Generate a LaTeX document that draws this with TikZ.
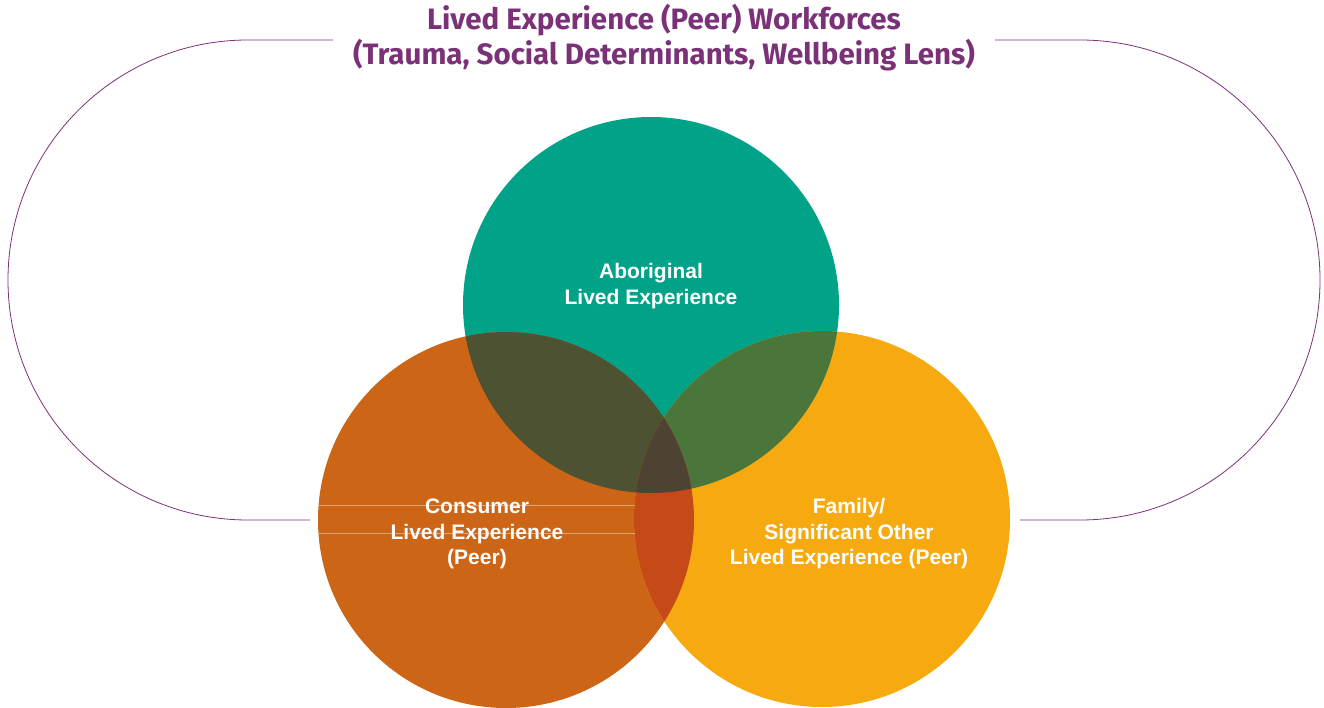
\documentclass[tikz,border=0pt]{standalone}
\usepackage{fontspec}
\setmainfont{Liberation Sans}
\newfontfamily\titlefont{Fira Sans}
\usetikzlibrary{calc}

\definecolor{aboteal}{HTML}{00A388}
\definecolor{conorange}{HTML}{CD6516}
\definecolor{famyellow}{HTML}{F6AA10}
\definecolor{abocon}{HTML}{4D5233}
\definecolor{abofam}{HTML}{4A763B}
\definecolor{confam}{HTML}{C64A17}
\definecolor{allthree}{HTML}{4E4232}
\definecolor{lensviolet}{HTML}{7B3177}

\begin{document}
\begin{tikzpicture} [x=1pt, y=-1pt, align=center,
  lbl/.style={text=white, font=\fontsize{21}{25.5}\selectfont\bfseries},
  ttl/.style={text=lensviolet, font=\titlefont\fontsize{29.5}{35}\selectfont\bfseries},
  lens/.style={draw=lensviolet, line width=0.8pt},
  seam/.style={draw=conorange!60!white, line width=0.5pt}]
\useasboundingbox (0,0) rectangle (1324,708);

\coordinate (ab) at (651,305);
\coordinate (co) at (506,520);
\coordinate (fa) at (822,519);

% the three circles
\fill[aboteal] (ab) circle (188);
\fill[conorange] (co) circle (188);
\fill[famyellow] (fa) circle (188);

% overlaps
\begin{scope}
  \clip (ab) circle (188);
  \fill[abocon] (co) circle (188);
  \fill[abofam] (fa) circle (188);
\end{scope}
\begin{scope}
  \clip (co) circle (188);
  \fill[confam] (fa) circle (188);
  \clip (fa) circle (188);
  \fill[allthree] (ab) circle (188);
\end{scope}

\draw[seam] (319,505) -- (635,505);
\draw[seam] (319,533) -- (635,533);

% lens around the circles
\draw[lens] (333,40) -- (248,40) arc[start angle=-90, end angle=-270, radius=240] -- (310,520);
\draw[lens] (995,40) -- (1080,40) arc[start angle=-90, end angle=90, radius=240] -- (1020,520);

\path (664,38) node[ttl] (title) {Lived Experience (Peer) Workforces\\(Trauma, Social Determinants, Wellbeing Lens)}
      (651,286) node[lbl] (abo) {Aboriginal\\Lived Experience}
      (477,534) node[lbl] (con) {Consumer\\Lived Experience\\(Peer)}
      (849,534) node[lbl] (fam) {Family/\\Significant Other\\Lived Experience (Peer)};

\end{tikzpicture}
\end{document}
